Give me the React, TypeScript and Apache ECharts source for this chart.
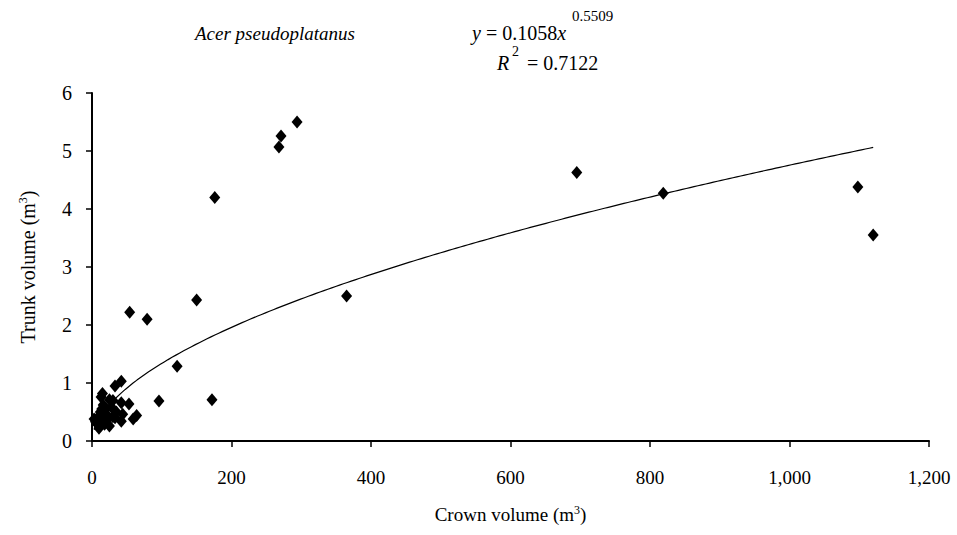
import React, { useEffect, useRef } from "react";
import * as echarts from "echarts";

// Crown volume (m3) vs trunk volume (m3) — Acer pseudoplatanus
const crownVolume: number[] = [
  294, 271, 268, 176, 150, 79, 54, 122, 96, 172, 365, 695, 819, 1098, 1120,
  42, 33, 15, 13, 25, 30, 42, 53, 20, 16, 64, 59, 44, 35, 42, 33, 25, 3, 13,
  22, 8, 18, 10, 5, 28, 12, 20, 8, 15, 30, 14, 23,
];
const trunkVolume: number[] = [
  5.5, 5.26, 5.07, 4.2, 2.43, 2.1, 2.22, 1.29, 0.69, 0.71, 2.5, 4.63, 4.27, 4.38, 3.55,
  1.03, 0.95, 0.82, 0.76, 0.71, 0.7, 0.66, 0.64, 0.55, 0.62, 0.44, 0.38, 0.46, 0.5, 0.34, 0.4, 0.26, 0.38, 0.42,
  0.44, 0.29, 0.29, 0.22, 0.33, 0.58, 0.5, 0.35, 0.4, 0.3, 0.42, 0.55, 0.38,
];

// Power trendline shown on the chart: y = a * x^b
const fitA = 0.1058;
const fitB = 0.5509;
const fitR2 = 0.7122;

const xTicks = { min: 0, max: 1200, interval: 200 };
const yTicks = { min: 0, max: 6, interval: 1 };

const FONT = "'Liberation Serif', 'Times New Roman', serif";

export default function App() {
  const ref = useRef<HTMLDivElement>(null);

  useEffect(() => {
    if (!ref.current) return;
    const chart = echarts.init(ref.current, null, { renderer: "svg" });

    const points = crownVolume.map((x, i) => [x, trunkVolume[i]]);
    const xMin = Math.min(...crownVolume);
    const xMax = Math.max(...crownVolume);
    const fit: number[][] = [];
    const steps = 200;
    for (let i = 0; i <= steps; i++) {
      const x = xMin + ((xMax - xMin) * i) / steps;
      fit.push([x, fitA * Math.pow(x, fitB)]);
    }

    const supStyle = { fontFamily: FONT, fontSize: 12, color: "#000", verticalAlign: "top" as const, padding: [0, 0, 9, 0] };

    chart.setOption({
      animation: false,
      backgroundColor: "#ffffff",
      grid: { left: 92, right: 28, top: 93, bottom: 94 },
      xAxis: {
        type: "value",
        min: xTicks.min,
        max: xTicks.max,
        interval: xTicks.interval,
        name: "Crown volume (m{sup|3})",
        nameLocation: "middle",
        nameGap: 63,
        nameTextStyle: { fontFamily: FONT, fontSize: 19, color: "#000", rich: { sup: supStyle } },
        axisLine: { show: true, lineStyle: { color: "#000", width: 2 } },
        axisTick: { show: true, inside: false, length: 6, lineStyle: { color: "#000", width: 1.5 } },
        axisLabel: {
          fontFamily: FONT,
          fontSize: 19,
          color: "#000",
          margin: 27,
          formatter: (v: number) => v.toLocaleString("en-US"),
        },
        splitLine: { show: false },
      },
      yAxis: {
        type: "value",
        min: yTicks.min,
        max: yTicks.max,
        interval: yTicks.interval,
        name: "Trunk volume (m{sup|3})",
        nameLocation: "middle",
        nameGap: 54,
        nameRotate: 90,
        nameTextStyle: { fontFamily: FONT, fontSize: 20, color: "#000", rich: { sup: supStyle } },
        axisLine: { show: true, lineStyle: { color: "#000", width: 2 } },
        axisTick: { show: true, inside: false, length: 6, lineStyle: { color: "#000", width: 1.5 } },
        axisLabel: { fontFamily: FONT, fontSize: 20, color: "#000", margin: 20 },
        splitLine: { show: false },
      },
      series: [
        {
          type: "line",
          data: fit,
          showSymbol: false,
          smooth: false,
          lineStyle: { color: "#000", width: 1.2 },
          z: 1,
        },
        {
          type: "scatter",
          data: points,
          symbol: "diamond",
          symbolSize: [11, 13],
          itemStyle: { color: "#000", opacity: 1 },
          z: 2,
        },
      ],
      graphic: [
        {
          type: "text",
          x: 195,
          y: 33,
          style: {
            text: "Acer pseudoplatanus",
            font: `italic 19px ${FONT}`,
            fill: "#000",
            textAlign: "left",
            textVerticalAlign: "middle",
          },
        },
        {
          type: "text",
          x: 472,
          y: 33,
          style: {
            text: `{i|y} = ${fitA}{i|x}`,
            font: `20px ${FONT}`,
            fill: "#000",
            textAlign: "left",
            textVerticalAlign: "middle",
            rich: { i: { fontStyle: "italic", fontFamily: FONT, fontSize: 20, fill: "#000" } },
          },
        },
        {
          type: "text",
          x: 572,
          y: 16,
          style: {
            text: `${fitB}`,
            font: `15px ${FONT}`,
            fill: "#000",
            textAlign: "left",
            textVerticalAlign: "middle",
          },
        },
        {
          type: "text",
          x: 497,
          y: 63,
          style: {
            text: "R",
            font: `italic 20px ${FONT}`,
            fill: "#000",
            textAlign: "left",
            textVerticalAlign: "middle",
          },
        },
        {
          type: "text",
          x: 512,
          y: 51,
          style: {
            text: "2",
            font: `14px ${FONT}`,
            fill: "#000",
            textAlign: "left",
            textVerticalAlign: "middle",
          },
        },
        {
          type: "text",
          x: 527,
          y: 63,
          style: {
            text: `= ${fitR2}`,
            font: `20px ${FONT}`,
            fill: "#000",
            textAlign: "left",
            textVerticalAlign: "middle",
          },
        },
      ],
    });

    return () => chart.dispose();
  }, []);

  return (
    <div
      ref={ref}
      style={{ position: "fixed", left: 0, top: 0, width: 957, height: 535, background: "#fff" }}
    />
  );
}
